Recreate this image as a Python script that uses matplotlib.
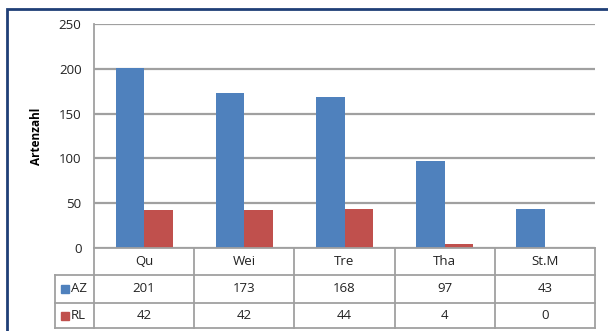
import matplotlib
matplotlib.use("Agg")
import matplotlib.pyplot as plt
from matplotlib.patches import Rectangle
import numpy as np

# data
sites = ["Qu", "Wei", "Tre", "Tha", "St.M"]
az = [201, 173, 168, 97, 43]
rl = [42, 42, 44, 4, 0]
series_names = ["AZ", "RL"]
colors = ["#4F81BD", "#C0504D"]

W, H = 608, 331
fig = plt.figure(figsize=(W / 100, H / 100), dpi=100)
plt.rcParams['font.family'] = ['Open Sans', 'DejaVu Sans']

# plot area in pixels
x0, x1 = 94, 595
y_top, y_zero = 24, 248
ax = fig.add_axes([x0 / W, 1 - y_zero / H, (x1 - x0) / W, (y_zero - y_top) / H])

x = np.arange(len(sites))
bw = 0.285
ax.bar(x - bw / 2, az, bw, color=colors[0], zorder=3)
ax.bar(x + bw / 2, rl, bw, color=colors[1], zorder=3)

ax.set_xlim(-0.5, len(sites) - 0.5)
ax.set_ylim(0, 250)
ax.set_yticks(range(0, 251, 50))
ax.yaxis.grid(True, color="#A0A0A0", linewidth=1.6, zorder=0)
ax.set_xticks([])
for s in ["top", "right", "bottom"]:
    ax.spines[s].set_visible(False)
ax.spines["left"].set_color("#A0A0A0")
ax.spines["left"].set_linewidth(1.3)
ax.tick_params(axis="y", length=0, labelsize=9.5, colors="#222222", pad=9)
ax.set_ylabel("Artenzahl", fontsize=8.5, fontweight="bold", labelpad=11)

# data table below the axis, drawn in figure pixels
def fx(px):
    return px / W

def fy(py):
    return 1 - py / H

line_kw = dict(color="#A0A0A0", linewidth=1.3, transform=fig.transFigure)
rows = [248, 275, 303, 328]
lab_left = 55
fig.add_artist(plt.Line2D([fx(x0), fx(x1)], [fy(rows[0]), fy(rows[0])], **line_kw))
for r in rows[1:]:
    fig.add_artist(plt.Line2D([fx(lab_left), fx(x1)], [fy(r), fy(r)], **line_kw))
fig.add_artist(plt.Line2D([fx(lab_left), fx(lab_left)], [fy(rows[1]), fy(rows[3])], **line_kw))
col_w = (x1 - x0) / len(sites)
for i in range(len(sites) + 1):
    xp = x0 + i * col_w
    fig.add_artist(plt.Line2D([fx(xp), fx(xp)], [fy(rows[0]), fy(rows[3])], **line_kw))

txt_kw = dict(fontsize=9.5, color="#222222", ha="center", va="center", transform=fig.transFigure)
for i, s in enumerate(sites):
    cx = x0 + (i + 0.5) * col_w
    fig.text(fx(cx), fy((rows[0] + rows[1]) / 2), s, **txt_kw)
    fig.text(fx(cx), fy((rows[1] + rows[2]) / 2), str(az[i]), **txt_kw)
    fig.text(fx(cx), fy((rows[2] + rows[3]) / 2), str(rl[i]), **txt_kw)

for j, name in enumerate(series_names):
    cy = (rows[1 + j] + rows[2 + j]) / 2
    fig.add_artist(Rectangle((fx(61), fy(cy + 4)), 8 / W, 8 / H, color=colors[j],
                             transform=fig.transFigure))
    fig.text(fx(71), fy(cy), name, fontsize=9.5, color="#222222", ha="left", va="center",
             transform=fig.transFigure)

# outer chart frame
fig.add_artist(Rectangle((fx(6.5), fy(H + 10)), (W + 10) / W, (H + 10 - 8.5) / H, fill=False,
                         edgecolor="#1F3F77", linewidth=2, transform=fig.transFigure))

plt.savefig("out.png", dpi=100)
